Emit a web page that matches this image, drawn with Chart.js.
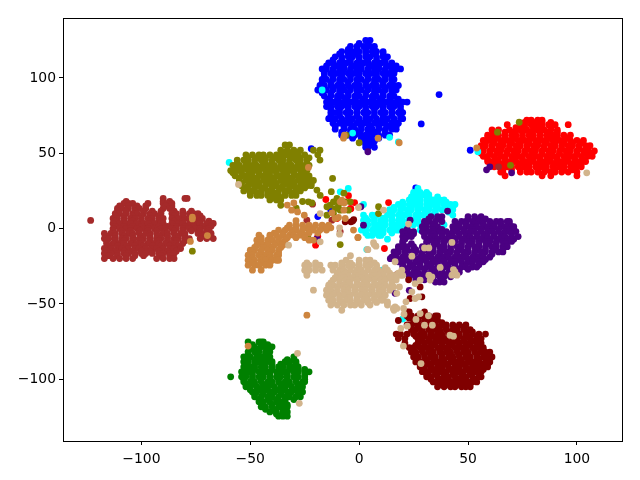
<!DOCTYPE html>
<html>
<head>
  <meta charset="UTF-8">
  <title>Cluster scatter</title>
  <script src="https://cdn.jsdelivr.net/npm/chart.js"></script>
  <style>
    body { margin: 0; background: #fff; }
    canvas { display: block; }
  </style>
</head>
<body>
  <canvas id="chart" width="640" height="480"></canvas>
  <script>
    const xTickValues = [-100, -50, 0, 50, 100];
    const yTickValues = [-100, -50, 0, 50, 100];

    // each row is [y, [x, x, ...]]; strays are [x, y]
    const blueRows = [
      [125,[3,5]],[123,[0,4]],[121,[-4,-1,2,5,7]],[119,[-5,-1,3,7]],[117.5,[-8,-5,-3,0,3,6,8,11]],[116,[-9,-5,-1,3,7,11]],
      [114,[-11,-8,-5,-3,0,3,5,8,11,13]],[112,[-12,-8,-4,0,4,8,12]],
      [110,[-14,-12,-9,-6,-4,-1,2,4,7,10,12,15]],[108,[-15,-11,-7,-3,1,5,9,13,17]],
      [106,[-17,-15,-12,-9,-7,-4,-1,1,4,7,9,12,15,17,19]],[104.5,[-16,-12,-8,-4,0,4,8,12,16]],
      [103,[-16,-13,-10,-8,-5,-2,0,3,6,8,11,14,16]],[101,[-16,-12,-8,-4,0,4,8,12,15]],
      [99,[-17,-15,-12,-9,-7,-4,-1,1,4,7,9,12,15,16]],[97,[-17,-13,-9,-5,-1,3,7,11,15]],
      [95,[-18,-16,-13,-10,-8,-5,-2,0,3,6,8,11,14,16,18]],[93.5,[-16,-12,-8,-4,0,4,8,12,16]],
      [92,[-19,-17,-15,-12,-9,-7,-4,-1,1,4,7,9,12,15,17]],[90,[-17,-13,-9,-5,-1,3,7,11,15]],
      [88,[-16,-13,-10,-8,-5,-2,0,3,6,8,11,14,16]],[86,[-14,-10,-6,-2,2,6,10,14,18]],
      [84,[-15,-12,-9,-7,-4,-1,1,4,7,9,12,15,17,20,22]],[82.5,[-14,-10,-6,-2,2,6,10,14,18]],
      [81,[-15,-13,-10,-8,-5,-2,0,3,6,8,11,14,16,19]],[79,[-13,-9,-5,-1,3,7,11,15,19]],
      [77,[-13,-11,-9,-6,-4,-1,2,4,7,10,12,15,18,20]],[75,[-13,-9,-5,-1,3,7,11,15,19]],
      [73,[-14,-11,-8,-5,-3,0,3,5,8,11,13,16,19,20]],[71.5,[-12,-8,-4,0,4,8,12,16]],
      [70,[-12,-9,-6,-4,-1,2,4,7,10,12,15,18]],[68,[-11,-7,-3,1,5,9,13,17]],
      [66,[-11,-7,-4,-2,1,4,6,9,12,15,17]],[64,[-8,-4,0,4,8,12]],[62,[-8,-5,-2,1,3,6,9,12,14]],[60,[-3,1,5,9]],
      [58,[1,3,5,7]],[56,[3,5]],[54,[3,4,7]]
    ];
    const blueStrays = [[36.7,89],[28.5,69.5],[51,52],[26,27],[8.8,1.7],[-19,8],[-22,53],[-13,12]];

    const redRows = [
      [72,[77,79,82,84]],[70.5,[76,80,84,88]],[69,[68,74,76,79,82,84,87,90,96]],[67,[72,76,80,84,88]],
      [65.5,[61,64,69,72,74,77,80,82,85,88,91]],[64,[62,67,71,75,79,83,87,91]],
      [62,[59,61,64,67,70,72,75,78,80,83,86,89,91,94,97]],[60,[59,63,67,71,75,79,83,87,91,95]],
      [58.5,[57,60,62,65,68,70,73,76,78,81,84,86,89,92,94,97,100,103]],[57,[58,62,66,70,74,78,82,86,90,94,98,102]],
      [55,[56,58,61,64,66,69,72,74,77,80,82,85,88,90,93,96,98,101,104,106]],[53,[57,61,65,69,73,77,81,85,89,93,97,101,105]],
      [51.5,[55,57,60,63,65,68,71,73,76,79,81,84,87,89,92,95,97,100,103,105,108]],[50,[56,60,64,68,72,76,80,84,88,92,96,100,104,107]],
      [48,[57,59,62,65,67,70,73,75,78,81,83,86,89,91,94,97,99,102,105,107]],[46,[59,63,67,71,75,79,83,87,91,95,99,103]],
      [44.5,[59,61,64,67,69,72,75,77,80,83,85,88,91,93,96,99,101,104]],[43,[62,66,70,74,78,82,86,90,94,98,102]],
      [41,[62,65,68,70,73,76,78,81,84,86,89,92,94,97,100,102]],[39,[66,70,74,78,82,86,90,94,98]],
      [37.5,[65,66,74,77,79,82,85,88,90,93,96,100]],[35,[67,84,88,100]]
    ];
    const redStrays = [[-15.3,19.3],[-4.9,21.8],[-2.1,17.3],[-3.8,13.1],[-10.2,6.7],[-19,-5],[-20,-11],[11.6,-13.2],[13.5,17.3],[-4,13.4]];

    const greenRows = [
      [-75.2,[-51,-46,-45,-44]],[-77,[-49,-45,-42]],[-78.5,[-50,-48,-45,-43,-41,-40]],[-80,[-50,-46,-42]],[-81.8,[-51,-48,-46,-43,-41]],
      [-83.5,[-51,-47,-43]],[-85.1,[-53,-50,-47,-45,-42,-41,-30]],[-87,[-52,-48,-44,-41,-33,-30]],
      [-88.4,[-53,-51,-48,-46,-43,-41,-40,-34,-32,-29]],[-90,[-52,-48,-44,-40,-36,-32,-29]],
      [-91.8,[-53,-50,-48,-45,-43,-40,-37,-35,-32,-30,-28]],[-93.5,[-52,-48,-44,-40,-36,-32,-28,-25]],
      [-95.1,[-54,-51,-49,-46,-43,-41,-38,-35,-33,-30,-28,-25,-23]],[-97,[-53,-49,-45,-41,-37,-33,-29,-25]],
      [-98.4,[-59,-54,-52,-49,-46,-44,-41,-38,-36,-33,-30,-28,-25]],[-100,[-53,-49,-45,-41,-37,-33,-29,-25]],
      [-101.7,[-53,-50,-48,-45,-42,-40,-37,-34,-32,-29,-26,-25]],[-103.5,[-52,-48,-44,-40,-36,-32,-28]],
      [-105,[-52,-50,-47,-44,-42,-39,-36,-34,-31,-28,-26]],[-107,[-50,-46,-42,-38,-34,-30,-27]],
      [-108.4,[-49,-47,-44,-41,-39,-36,-33,-31,-28,-26]],[-110,[-48,-44,-40,-36,-32,-28]],
      [-111.7,[-48,-45,-42,-40,-37,-34,-32,-29,-27]],[-113.5,[-46,-42,-38,-34,-30]],[-115,[-46,-44,-41,-38,-36,-34]],
      [-117,[-44,-40,-36,-33]],[-118.3,[-45,-43,-40,-37,-35,-33]],[-120,[-43,-39,-35]],[-121.7,[-41,-38,-35,-33]],
      [-123,[-38,-34]],[-124.5,[-37,-35,-33]]
    ];

    const cyanRows = [
      [26.7,[-5,27]],[24,[25,28,31]],[22.5,[25,27,30,32]],[21,[24,28,32,36]],[19,[23,26,28,31,34,37,39]],[17.5,[20,24,28,32,36,40]],
      [16,[2,18,20,23,26,28,31,34,36,39,42,44]],[14,[16,20,24,28,32,36,40,43]],
      [12.5,[14,16,19,22,24,27,30,32,35,38,40,43]],[11,[15,19,23,27,31,35,41]],
      [9,[2,6,8,13,15,18,21,23,26,29,31,34,35,43]],[7,[3,7,11,15,19,23,27,31]],
      [5.5,[2,4,7,10,12,15,18,20,23,25,27]],[4,[3,7,11,15,19,23,27]],[2.5,[2,4,7,9,12,15,17,20,23,25,28,39]],
      [0.5,[3,7,11,15,19]],[-1,[1,3,6,9,11,14,17,18,28]],[-3,[3,7,11,15]],[-4.5,[4,6,9,10]],[-7,[13]]
    ];
    const cyanStrays = [[10.4,-27.6],[3.5,-13.9],[-17,92],[-3,63.4],[14,60.6],[18,57.5],[54.5,51],[-59.7,43.9],[-8.7,24.4],[20,-60]];

    const indigoRows = [
      [8,[33,36,38,50,53,56]],[6.5,[32,36,50,54,58]],[4.7,[30,32,35,38,44,47,49,52,55,57,60,63,65,68,69]],
      [3,[30,34,45,49,53,57,61,65,69]],[1.3,[29,31,34,36,43,46,49,51,54,57,59,62,65,67,70,71]],
      [-0.5,[22,30,34,38,44,48,52,56,60,64,68,71]],[-2,[20,23,25,29,32,35,37,40,43,45,48,51,53,56,59,61,64,67,69,72]],
      [-3.5,[21,25,30,34,38,42,46,50,54,58,62,66,70]],[-5.3,[20,22,24,30,33,35,38,41,43,46,49,51,54,57,59,62,65,67,70,73]],
      [-7,[21,32,36,40,44,48,52,56,60,64,68,71]],[-8.5,[20,31,34,36,39,42,44,47,50,52,55,58,60,63,66,68,70]],
      [-10,[20,24,31,35,39,43,47,51,55,59,63,67]],[-12,[18,20,22,25,29,31,34,37,39,42,45,47,50,53,55,58,61,63,66,68]],
      [-14,[18,22,26,30,34,38,42,46,50,54,58,62,66]],[-15.5,[16,18,21,24,26,29,32,34,37,40,42,45,48,50,53,56,58,61,64,66]],
      [-17,[17,21,25,29,33,37,41,45,49,53,57,61]],[-19,[15,17,20,23,25,28,31,33,36,39,41,44,47,49,52,55,57,60]],
      [-20.5,[18,22,26,30,34,38,42,46,50,54,58]],[-22,[18,20,23,26,28,31,34,36,39,42,44,47,50,52,55,57]],
      [-24,[20,24,28,32,36,40,44,48,52,55]],[-25.5,[20,23,25,28,31,33,36,39,41,44,47,49,52,54]],
      [-27,[22,26,30,34,38,42,46,50]],[-29,[22,25,27,30,33,35,38,41,43,46]],[-30.5,[24,28,32,36,40,44]],
      [-32,[23,26,29,31,34,37,39,42]],[-34,[26,30,34,38]],[-35.5,[35,37,39]]
    ];
    const indigoStrays = [[40.6,11.6],[23.4,5.6],[2,2.3],[0.8,14.5],[-19.4,-6.6],[14.3,-20],[16.5,-43],[4,51],[60,41],[58.5,39],[70,37],[23,-41]];

    const brownRows = [
      [20,[-90,-80,-79]],[18,[-107,-90,-87]],[16.7,[-108,-106,-104,-97,-90,-88,-86]],[15,[-110,-106,-102,-98,-89,-86]],
      [13.4,[-111,-109,-106,-103,-101,-98,-90,-87,-86]],[11.5,[-111,-107,-103,-99,-95,-91,-85,-81,-77]],
      [10,[-112,-110,-107,-104,-102,-99,-96,-94,-91,-86,-84,-81,-78,-76,-74]],[8.5,[-112,-108,-104,-100,-96,-92,-85,-81,-77,-73]],
      [6.7,[-113,-111,-108,-105,-103,-100,-97,-95,-92,-90,-86,-83,-80,-78,-75,-73,-72]],[5,[-112,-108,-104,-100,-96,-92,-85,-81,-77,-73,-69]],
      [3.4,[-113,-110,-107,-105,-102,-99,-97,-94,-91,-90,-86,-83,-81,-78,-75,-73,-70,-68,-67]],[1.5,[-112,-108,-104,-100,-96,-92,-88,-84,-80,-76,-72,-68]],
      [0,[-113,-110,-107,-105,-102,-99,-97,-94,-91,-89,-86,-84,-81,-78,-75,-73,-70,-69]],[-1.5,[-113,-109,-105,-101,-97,-93,-89,-85,-81,-77,-73,-69]],
      [-3.2,[-117,-114,-112,-109,-106,-104,-101,-98,-96,-93,-90,-88,-85,-82,-80,-74,-71,-68]],[-5,[-116,-112,-108,-104,-100,-96,-92,-88,-84,-80,-72,-68]],
      [-6.6,[-117,-115,-112,-109,-107,-104,-101,-99,-96,-93,-91,-88,-85,-83,-80,-78,-73,-70,-67]],[-8,[-116,-112,-108,-104,-100,-96,-92,-88,-84,-80]],
      [-9.9,[-116,-113,-110,-108,-105,-102,-100,-97,-94,-92,-89,-86,-84,-81]],[-11.5,[-115,-111,-107,-103,-99,-95,-91,-87,-83]],
      [-13.2,[-117,-114,-111,-109,-106,-103,-101,-98,-95,-93,-90,-87,-85,-82]],[-15,[-116,-112,-108,-104,-100,-96,-92,-88,-84]],
      [-16.5,[-117,-114,-111,-108,-106,-103,-100,-98,-95,-92,-90,-87,-85]],[-18,[-115,-111,-107,-103,-99,-91,-87]],
      [-19.9,[-117,-113,-110,-107,-104,-93,-90,-87,-85]]
    ];
    const brownStrays = [[-123.3,5.4],[-21.4,16.2],[-24,5.6],[-12.5,5.6],[-8.7,-2],[64,41]];

    const maroonRows = [
      [-55.3,[22,23,30]],[-58,[22,24,27,29,32,35,36]],[-59.5,[23,27,31,35]],[-61,[18,25,27,30,33,36]],[-62.5,[26,30,34,38]],
      [-64,[22,24,27,30,32,35,38,40,43,46,49]],[-65.5,[24,28,32,36,40,44,48]],[-67,[24,26,29,32,35,37,40,43,45,48,51]],
      [-68.5,[25,29,33,37,41,45,49,52]],[-70,[17,19,22,25,28,30,33,36,38,41,44,46,49,52,55,58]],[-71.5,[26,30,34,38,42,46,50,54]],
      [-73,[18,21,27,29,32,35,37,40,43,45,48,51,54,56]],[-74.5,[28,32,36,40,44,48,52,55]],
      [-76,[21,27,30,33,35,38,41,43,46,49,51,54,56]],[-77.5,[26,30,34,38,42,46,50,54]],
      [-79,[23,25,28,31,33,36,39,41,44,47,49,52,55,57]],[-80.5,[25,29,33,37,41,45,49,53,57]],
      [-82,[24,26,29,32,34,37,40,42,45,48,50,53,56,58,60]],[-83.5,[26,30,34,38,42,46,50,54,58]],
      [-85.2,[25,27,30,33,35,38,41,43,46,49,51,54,57,59,61]],[-87,[27,31,35,39,43,47,51,55,59]],
      [-88.5,[26,29,31,34,37,39,42,45,47,50,53,55,58,60]],[-90,[28,32,36,40,44,48,52,56,59]],
      [-91.8,[28,30,33,36,38,41,44,46,49,52,54,57,59]],[-93.5,[30,34,38,42,46,50,54,57]],
      [-95,[29,32,35,37,40,43,45,48,51,53,56]],[-96.7,[31,35,39,43,47,51,55]],[-98.4,[31,33,36,39,41,44,47,49,52,55,56]],
      [-100,[33,37,41,45,49,53]],[-101.8,[34,36,39,42,44,47,50,52,54]],[-103.5,[37,41,45,49]],[-105,[36,39,42,44,47,49,51]]
    ];
    const maroonStrays = [[22.7,-34],[28,-38.7],[28.8,-45.3],[23.4,-46.4],[17.3,-30.5],[-3.8,4.5],[-3,5],[-2.5,6],[-6.4,4.5]];

    const oliveRows = [
      [55.5,[-34,-32]],[52,[-36,-33,-30,-27,-21,-18]],[50.5,[-34,-31,-28]],[49,[-52,-49,-46,-44,-41,-38,-36,-33,-30,-28,-25,-19]],
      [47,[-51,-47,-43,-39,-35,-31,-27,-23]],[45.5,[-56,-53,-51,-48,-45,-43,-40,-37,-35,-32,-29,-27,-24,-18]],
      [43.5,[-56,-52,-48,-44,-40,-36,-32,-28,-24]],[42,[-58,-55,-52,-50,-47,-44,-42,-39,-36,-34,-31,-28,-26,-23]],
      [40,[-57,-53,-49,-45,-41,-37,-33,-29,-25]],[38.5,[-59,-56,-54,-51,-48,-46,-43,-40,-38,-35,-32,-30,-27,-24]],
      [37,[-58,-54,-50,-46,-42,-38,-34,-30,-26]],[35,[-57,-54,-52,-49,-46,-44,-41,-38,-36,-33,-30,-28,-25,-23]],
      [33.5,[-55,-51,-47,-43,-39,-35,-31,-27,-23]],[32,[-55,-52,-49,-47,-44,-41,-39,-36,-33,-31,-28,-25,-23,-21]],
      [30,[-54,-50,-46,-42,-38,-34,-30,-26,-22]],[28.5,[-54,-51,-48,-46,-43,-40,-38,-35,-32,-30,-27,-24,-22]],
      [27,[-52,-48,-44,-40,-36,-32,-28,-25]],[25,[-53,-50,-48,-45,-42,-40,-37,-34,-32,-29,-27]],
      [23.5,[-50,-46,-42,-38,-34,-30]],[22,[-50,-47,-45,-42,-39,-37,-34,-31,-29]],[20.5,[-40,-36]],[19,[-41,-38,-36]]
    ];
    const oliveStrays = [
      [-26,18],[-12.2,33.3],[-12.8,24.5],[-19.4,25.6],[-17.9,22],[-23.3,17.8],[-21.7,17],[-36,15.5],[-28.9,13.6],[-7,23.5],
      [-10.2,20],[-11.8,17.8],[-9.5,15.6],[-13.3,15.6],[-14.8,14.5],[-11,13.3],[-6.4,17.8],[-4.1,17.8],[-4.9,12.2],[-14.8,8.9],
      [-11.8,10],[-8.7,12.2],[-23.3,-6.6],[-8.7,-10.6],[8.9,14.5],[8.9,10],[0,57],[-6,62],[-76.6,-15],[73.5,70.6],[63.5,64],[69.5,42]
    ];

    const peruRows = [
      [2.3,[-32,-29,-26,-23,-20,-17,-14]],[0.5,[-33,-29,-25,-21,-17,-13]],[-1,[-37,-34,-31,-29,-26,-23,-21,-18,-15]],
      [-3,[-39,-35,-31,-27,-23,-19]],[-4.4,[-46,-41,-38,-35,-32,-30,-27,-25]],[-6,[-45,-41,-37,-33,-29,-25]],
      [-7.7,[-47,-45,-42,-40,-37,-34,-23,-21]],[-9.5,[-46,-42,-38,-35]],[-11,[-47,-44,-42,-39,-36,-35]],[-12.5,[-48,-44,-40,-36]],
      [-14.3,[-50,-48,-45,-42,-40,-37]],[-16,[-49,-45,-41,-37]],[-17.7,[-51,-49,-46,-43,-41,-38,-37]],[-19.5,[-49,-45,-41,-38]],
      [-21,[-51,-48,-45,-43,-40,-38,-37]],[-23,[-49,-45,-41]],[-24.3,[-51,-48,-46,-43,-41]],[-27.6,[-49,-45]]
    ];
    const peruStrays = [
      [-23.3,40.6],[-33,15.6],[-30,17],[-31,12.2],[-28.3,11.1],[-25.2,8.9],[-29,5.2],[-14.8,1.2],[-8.7,17.8],[-8,18.9],
      [-7,12.2],[-12.5,10.5],[-9.5,7.4],[-6.4,6.7],[-11,6.7],[-2.6,-1],[-0.6,-6],[-7.2,60],[-6.8,62],[8.7,60],[18.4,57],
      [-76.6,7.6],[-76.6,6.4],[-69.7,-4.6],[-77.5,-8.5],[-0.5,-5.8],[-6.9,17],[-51,-78],[-24,-57.5],[54,53.5]
    ];

    const tanRows = [
      [-18,[-4]],[-21,[-6,0,3,5]],[-22.7,[-24,-20,-8,-4,0,4,7]],[-24.3,[-25,-23,-20,-18,-13,-11,-8,-5,-3,0,3,5,8]],
      [-26,[-24,-20,-12,-8,-4,0,4,8,12]],[-27.6,[-25,-23,-20,-17,-12,-9,-7,-4,-1,1,4,7,9,12,13]],
      [-29.5,[-24,-10,-6,-2,2,6,10,14,18]],[-31,[-24,-10,-8,-5,-2,0,3,6,8,11,14,16,19,20]],
      [-32.6,[-11,-7,-3,1,5,9,13,17]],[-34.2,[-12,-9,-6,-4,-1,2,4,7,10,12,15,17]],[-36,[-13,-9,-5,-1,3,7,11,15]],
      [-37.6,[-14,-12,-9,-7,-4,-1,1,4,7,9,12,15]],[-39,[-14,-10,-6,-2,2,6,10,14]],
      [-40.9,[-21,-15,-13,-10,-7,-5,-2,1,3,6,9,11,14]],[-42.5,[-14,-10,-6,-2,2,6,10]],
      [-44.2,[-15,-12,-9,-7,-4,-1,1,4,7,9,12]],[-46,[-13,-9,-5,-1,3,7,11]],[-47.5,[-14,-12,-9,-6,-4,-1,2,4,7,10,11]],
      [-49,[-12,-8,-4,0,4,8]],[-50.8,[-13,-10,-7,-4,-2,1,5,13]],[-54.2,[-8,16]]
    ];
    const tanStrays = [
      [22.7,3],[30,-12.8],[32,-12.8],[24.2,-18.3],[42.6,-9.2],[6.6,-9.4],[7.7,-11.7],[3.8,-13.9],[37.2,-25.8],[43.3,-27.2],
      [44.9,-30.9],[42.6,-30.9],[44,-28.7],[32,-30.9],[33.4,-32],[32.6,-34.2],[19.6,-27.6],[16.5,-22],[28,-34.2],[25.7,-36.5],
      [24.2,-42],[27.3,-45.3],[25.7,-46.4],[17.3,-43],[13,-48.6],[16.5,-52],[20.4,-53],[14.3,-32],[15.8,-38.7],[18.5,-38.7],
      [12.9,-49.3],[15.7,-53],[17.3,-53],[21.5,-48.6],[20.6,-56.8],[28,-56.4],[31.8,-57.9],[26.1,-60.3],[22.1,-64.8],[19.1,-66.3],
      [30,-64.1],[33.6,-64.1],[41.7,-70.8],[43.3,-71.4],[20.3,-78],[28.4,-89.6],[-28.3,-82.8],[-27.5,-116],[-55.4,29.3],[-17.9,10],
      [-9,0.5],[-9,-3.7],[-0.3,14],[-32.4,-11],[4,-14],[6.9,-10.6],[-17.9,-8.8],[11.2,12.3],[104.5,37]
    ];

    function toPoints(rows, strays) {
      const pts = [];
      rows.forEach(row => row[1].forEach(x => pts.push({ x: x, y: row[0] })));
      (strays || []).forEach(p => pts.push({ x: p[0], y: p[1] }));
      return pts;
    }

    // listed bottom layer first
    const layers = [
      { color: "#0000ff", pts: toPoints(blueRows, blueStrays) },
      { color: "#ff0000", pts: toPoints(redRows, redStrays) },
      { color: "#008000", pts: toPoints(greenRows) },
      { color: "#00ffff", pts: toPoints(cyanRows, cyanStrays) },
      { color: "#4b0082", pts: toPoints(indigoRows, indigoStrays) },
      { color: "#a52a2a", pts: toPoints(brownRows, brownStrays) },
      { color: "#800000", pts: toPoints(maroonRows, maroonStrays) },
      { color: "#808000", pts: toPoints(oliveRows, oliveStrays) },
      { color: "#cd853f", pts: toPoints(peruRows, peruStrays) },
      { color: "#d2b48c", pts: toPoints(tanRows, tanStrays) }
    ];

    const frame = {
      id: "frame",
      afterDraw(chart) {
        const a = chart.chartArea;
        const c = chart.ctx;
        c.save();
        c.strokeStyle = "#000";
        c.lineWidth = 1;
        c.strokeRect(a.left + 0.5, a.top + 0.5, a.right - a.left, a.bottom - a.top);
        c.restore();
      }
    };

    const axisFont = { family: "'DejaVu Sans'", size: 13.9 };
    const label = v => (v < 0 ? "\u2212" + Math.abs(v) : String(v));

    new Chart(document.getElementById("chart"), {
      type: "scatter",
      data: {
        datasets: layers.map((l, i) => ({
          data: l.pts,
          order: -i,
          backgroundColor: l.color,
          borderWidth: 0,
          pointRadius: 3.4
        }))
      },
      options: {
        responsive: false,
        animation: false,
        layout: { padding: { left: 0, top: 18, right: 18, bottom: 0 } },
        plugins: { legend: { display: false }, tooltip: { enabled: false } },
        scales: {
          x: {
            type: "linear",
            min: -136,
            max: 120.7,
            afterBuildTicks: s => { s.ticks = xTickValues.map(v => ({ value: v })); },
            afterFit: s => { s.height = 39; },
            grid: { drawOnChartArea: false, color: "#000", tickLength: 4 },
            border: { color: "#000" },
            ticks: { color: "#000", font: axisFont, padding: 6, maxRotation: 0, callback: label }
          },
          y: {
            type: "linear",
            min: -141,
            max: 139.8,
            afterBuildTicks: s => { s.ticks = yTickValues.map(v => ({ value: v })); },
            afterFit: s => { s.width = 63; },
            grid: { drawOnChartArea: false, color: "#000", tickLength: 4 },
            border: { color: "#000" },
            ticks: { color: "#000", font: axisFont, padding: 3, callback: label }
          }
        }
      },
      plugins: [frame]
    });
  </script>
</body>
</html>
